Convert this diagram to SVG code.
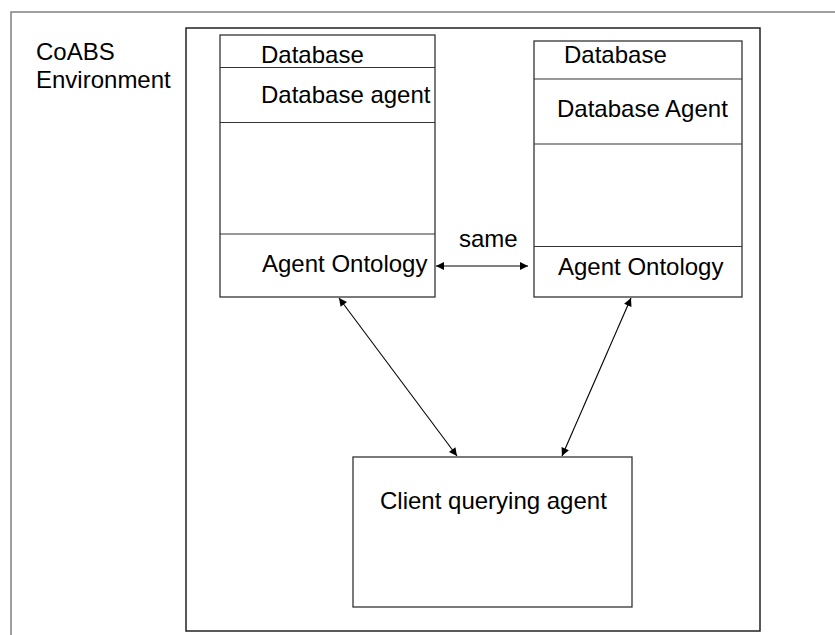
<svg xmlns="http://www.w3.org/2000/svg" width="835" height="635" viewBox="0 0 835 635">
<defs>
<style>
.frame{fill:none;stroke:#808080;stroke-width:1.5}
.box{fill:#fff;stroke:#333;stroke-width:1.3}
.div{stroke:#333;stroke-width:1.1}
.lbl{font-family:"Liberation Sans",Arial,sans-serif;font-size:24px;fill:#000}
.conn{stroke:#000;stroke-width:1.1;fill:none;marker-start:url(#ah);marker-end:url(#ah)}
</style>
<marker id="ah" viewBox="0 0 10 10" refX="10" refY="5" markerWidth="11" markerHeight="8" markerUnits="userSpaceOnUse" orient="auto-start-reverse">
<path d="M0,0 L10,5 L0,10 z" fill="#000"/>
</marker>
</defs>
<rect width="835" height="635" fill="#fff"/>
<g id="coabs-environment">
<path class="frame" d="M11,635 V12 H835"/>
<text class="lbl" x="36" y="60">CoABS</text>
<text class="lbl" x="36" y="88">Environment</text>
</g>
<g id="inner-frame">
<rect x="186" y="28" width="574" height="603" fill="none" stroke="#222" stroke-width="1.5"/>
</g>
<g id="db-left">
<rect class="box" x="220" y="35" width="215" height="262"/>
<line class="div" x1="220" y1="67.5" x2="435" y2="67.5"/>
<line class="div" x1="220" y1="122.5" x2="435" y2="122.5"/>
<line class="div" x1="220" y1="234" x2="435" y2="234"/>
<text class="lbl" x="261" y="63">Database</text>
<text class="lbl" x="261" y="103">Database agent</text>
<text class="lbl" x="262" y="272">Agent Ontology</text>
</g>
<g id="db-right">
<rect class="box" x="534" y="41" width="208" height="256"/>
<line class="div" x1="534" y1="79" x2="742" y2="79"/>
<line class="div" x1="534" y1="144" x2="742" y2="144"/>
<line class="div" x1="534" y1="246.5" x2="742" y2="246.5"/>
<text class="lbl" x="564" y="63">Database</text>
<text class="lbl" x="557" y="117">Database Agent</text>
<text class="lbl" x="558" y="275">Agent Ontology</text>
</g>
<g id="client">
<rect class="box" x="353" y="457" width="279" height="150"/>
<text class="lbl" x="380" y="509">Client querying agent</text>
</g>
<g id="connectors">
<line class="conn" x1="436" y1="266" x2="528" y2="266"/>
<text class="lbl" x="459" y="247">same</text>
<line class="conn" x1="339" y1="298" x2="457" y2="456"/>
<line class="conn" x1="631" y1="298" x2="562" y2="456"/>
</g>
</svg>
